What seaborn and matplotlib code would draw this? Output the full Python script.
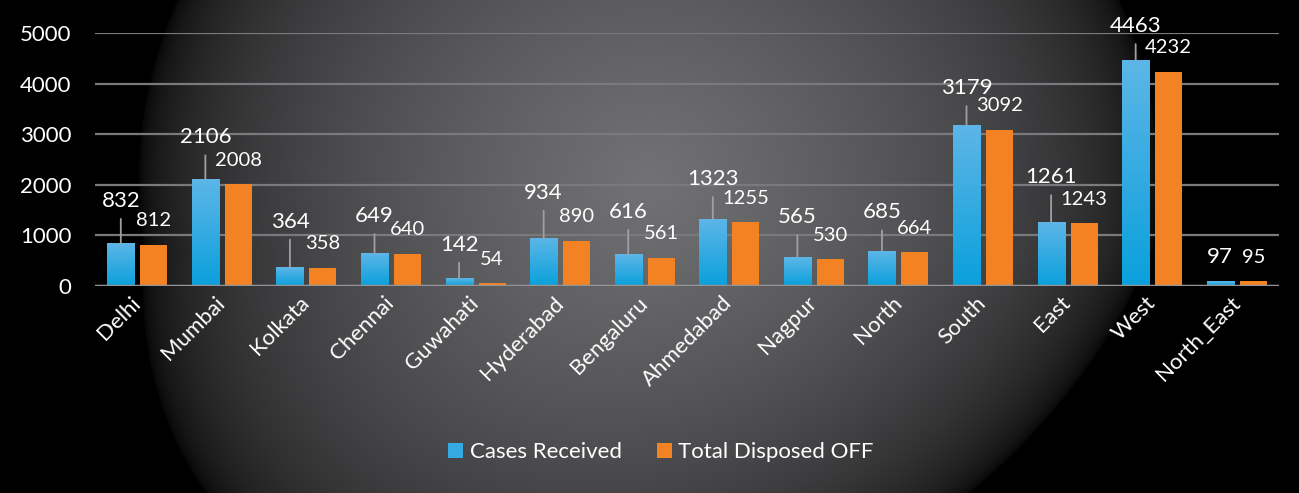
import numpy as np
import pandas as pd
import matplotlib
matplotlib.use("Agg")
import matplotlib.pyplot as plt
import seaborn as sns
from matplotlib.colors import LinearSegmentedColormap
from matplotlib.patches import Patch

categories = ["Delhi", "Mumbai", "Kolkata", "Chennai", "Guwahati", "Hyderabad", "Bengaluru",
              "Ahmedabad", "Nagpur", "North", "South", "East", "West", "North_East"]
cases_received = [832, 2106, 364, 649, 142, 934, 616, 1323, 565, 685, 3179, 1261, 4463, 97]
total_disposed = [812, 2008, 358, 640, 54, 890, 561, 1255, 530, 664, 3092, 1243, 4232, 95]
series_names = ["Cases Received", "Total Disposed OFF"]
yticks = [0, 1000, 2000, 3000, 4000, 5000]

# callout heights (pixels above the bar top) for the "Cases Received" labels
callout_px = [37, 36, 40, 31, 28, 40, 37, 34, 34, 33, 31, 39, 28, 18]

df = pd.DataFrame({
    "Office": categories * 2,
    "Cases": cases_received + total_disposed,
    "Series": [series_names[0]] * len(categories) + [series_names[1]] * len(categories),
})

sns.set_theme(style="white")
plt.rcParams["font.family"] = ["Lato", "DejaVu Sans"]

BLUE = "#35A9E1"
ORANGE = "#F28222"

W, H = 1299, 493
fig = plt.figure(figsize=(W / 100, H / 100), dpi=100)

# radial dark background
bg = fig.add_axes([0, 0, 1, 1], zorder=0)
yy, xx = np.mgrid[0:H, 0:W].astype(float)
cx = 648 - 0.25 * np.clip(yy - 250, 0, None)
d = np.sqrt(((xx - cx) / 510.0) ** 2 + ((yy - 180) / 472.0) ** 2)
v = np.clip(1 - d, 0, 1) ** 0.45 * 0.445
img = np.dstack([v, v * 1.005, v * 1.03]).clip(0, 1)
bg.imshow(img, extent=[0, W, H, 0], aspect="auto", interpolation="bilinear")
bg.set_xlim(0, W)
bg.set_ylim(H, 0)
bg.axis("off")

ax = fig.add_axes([95 / W, 1 - 286 / H, (1279 - 95) / W, (286 - 33) / H], zorder=1)
ax.patch.set_alpha(0)

sns.barplot(data=df, x="Office", y="Cases", hue="Series", palette=[BLUE, ORANGE],
            width=0.78, gap=0.18, saturation=1, ax=ax, legend=False, zorder=3,
            linewidth=0, edgecolor="none")

# gradient fill for blue bars
blue_cmap = LinearSegmentedColormap.from_list("bl", ["#0AA0DC", "#5DB6E7"])
grad = np.linspace(0, 1, 256).reshape(-1, 1)
for p in ax.containers[0]:
    x0, w, h = p.get_x(), p.get_width(), p.get_height()
    ax.imshow(grad, extent=[x0, x0 + w, 0, h], origin="lower", aspect="auto",
              cmap=blue_cmap, zorder=3.5, interpolation="bilinear")

ax.set_xlim(-0.5, len(categories) - 0.5)
ax.set_ylim(0, 5000)
ax.set_yticks(yticks)
ax.set_yticklabels([str(t) for t in yticks], color="white", fontsize=16)
ax.tick_params(axis="y", length=0, pad=17)
ax.tick_params(axis="x", length=0, pad=10)
ax.set_xticks(range(len(categories)))
ax.set_xticklabels(categories, rotation=45, ha="right", va="center",
                   rotation_mode="anchor", color="white", fontsize=16)
for s in ax.spines.values():
    s.set_visible(False)
for t in yticks[1:]:
    ax.axhline(t, color="#7a7a7c", lw=1.6, zorder=1)
ax.axhline(0, color="#959597", lw=2.5, zorder=4)
ax.set_xlabel("")
ax.set_ylabel("")

# data labels
for p, val, off in zip(ax.containers[0], cases_received, callout_px):
    xc = p.get_x() + p.get_width() / 2
    line_len = off - 12
    if line_len > 6:
        ax.annotate("", xy=(xc, val), xytext=(0, line_len), textcoords="offset pixels",
                    arrowprops=dict(arrowstyle="-", color="#a0a0a2", lw=1.3, shrinkA=0, shrinkB=0),
                    annotation_clip=False, zorder=5)
    ax.annotate(str(val), xy=(xc, val), xytext=(0, off), textcoords="offset pixels",
                ha="center", va="baseline", color="white", fontsize=16,
                annotation_clip=False, zorder=6)
for p, val in zip(ax.containers[1], total_disposed):
    xc = p.get_x() + p.get_width() / 2
    ax.annotate(str(val), xy=(xc, val), xytext=(0, 18.5), textcoords="offset pixels",
                ha="center", va="baseline", color="white", fontsize=14.5,
                annotation_clip=False, zorder=6)

handles = [Patch(facecolor=BLUE, edgecolor="none"), Patch(facecolor=ORANGE, edgecolor="none")]
fig.legend(handles, series_names, loc="center", bbox_to_anchor=(661 / W, 1 - 452 / H),
           ncol=2, frameon=False, fontsize=16, labelcolor="white",
           handlelength=0.66, handleheight=0.66, handletextpad=0.3, columnspacing=1.6)

fig.savefig("out.png", dpi=100)
